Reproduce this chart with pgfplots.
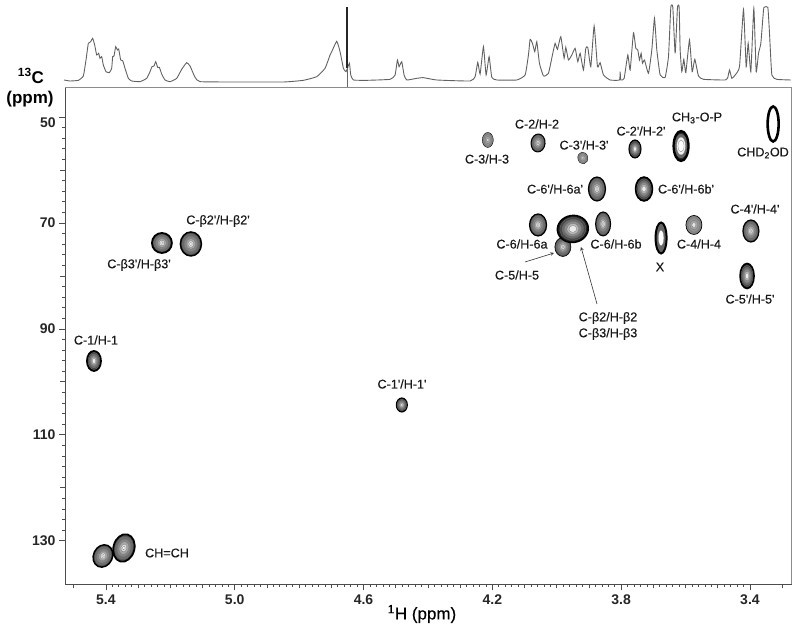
\documentclass[border=0pt]{standalone}
\usepackage{fontspec}
\setmainfont{Liberation Sans}
\newfontfamily\lblfont[FakeBold=0.35]{Liberation Sans}
\usepackage{pgfplots}
\pgfplotsset{compat=1.18}

% one spot of the 2D spectrum: nested contour levels around its centre
\pgfkeys{/blob/.cd,
  rx/.initial=5, ry/.initial=5, rot/.initial=0, edge/.initial=0.8,
  levels/.initial={1/60,.5/30,.2/0}}
\pgfdeclareplotmark{contours}{%
  \pgfmathsetmacro\brx{\pgfkeysvalueof{/blob/rx}}%
  \pgfmathsetmacro\bry{\pgfkeysvalueof{/blob/ry}}%
  \pgfmathsetmacro\brot{\pgfkeysvalueof{/blob/rot}}%
  \edef\blist{\pgfkeysvalueof{/blob/levels}}%
  \pgftransformrotate{\brot}%
  \pgfsetstrokecolor{black}%
  \pgfsetlinewidth{\pgfkeysvalueof{/blob/edge} pt}%
  \foreach \f/\g in \blist {%
    \pgfsetfillcolor{black!\g}%
    \pgfpathellipse{\pgfpointorigin}{\pgfpoint{\f*\brx pt}{0pt}}{\pgfpoint{0pt}{\f*\bry pt}}%
    \pgfusepath{fill,stroke}%
    \pgfsetstrokecolor{black!55}%
    \pgfsetlinewidth{0.25pt}%
  }%
}
\def\dark{1/88,.85/72,.7/58,.55/45,.4/28,.25/8}
\def\mid{1/68,.82/58,.64/48,.46/35,.28/12,.14/0}
\def\pale{1/48,.75/42,.5/35,.25/10}
\def\open{1/0}
% #1 ppm 1H, #2 ppm 13C, #3 rx, #4 ry, #5 rotation, #6 edge width, #7 levels
\newcommand\spot[7]{\addplot[only marks, mark=contours,
  mark options={/blob/rx=#3,/blob/ry=#4,/blob/rot=#5,/blob/edge=#6,/blob/levels={#7}}]
  coordinates {(#1,#2)};}
% text placed in picture pixels, y counted from the top
\newcommand\lab[3]{\node[inner sep=0pt,align=center,black!90,font=\lblfont\fontsize{12.6}{15}\selectfont] at ({#1pt},{631pt-#2pt}) {#3};}
\def\p{\textquotesingle}

\begin{document}
\begin{tikzpicture}
\useasboundingbox (0,0) rectangle (799pt,631pt);

% 1D proton trace, positions
\begin{axis}[
  at={(65pt,544pt)}, anchor=south west,
  scale only axis, width=726.5pt, height=81pt,
  xmin=195, xmax=2374, ymin=18, ymax=261,
  y dir=reverse, axis lines=none, clip=false]
\addplot[black!62, line width=0.9pt, smooth, tension=0.25] coordinates {
(192,240)(210,243)(235,241)(250,228)(258,180)(265,130)(272,125)(278,115)(284,135)(290,165)
(296,160)(300,175)(305,170)(310,195)(318,215)(328,218)(335,205)(338,170)(342,168)(347,140)
(352,150)(356,147)(362,180)(368,182)(375,205)(385,235)(395,243)(420,245)(440,235)(450,215)
(456,200)(462,198)(467,185)(473,202)(478,202)(485,222)(495,240)(510,245)(530,235)(545,208)
(560,188)(570,198)(585,232)(600,245)(700,246)(850,246)(910,241)(950,230)(975,205)(990,165)
(995,155)(1010,124)(1020,155)(1030,205)(1038,215)(1048,190)(1052,225)(1060,240)(1100,241)
(1170,238)(1185,225)(1192,180)(1197,200)(1205,185)(1212,225)(1220,240)(1250,235)(1270,233)
(1310,240)(1410,243)(1425,230)(1433,187)(1440,222)(1450,140)(1458,225)(1467,170)(1475,232)
(1490,240)(1550,240)(1575,225)(1585,165)(1590,118)(1597,130)(1604,155)(1610,125)(1618,190)
(1630,228)(1645,220)(1658,160)(1665,130)(1672,148)(1682,110)(1692,175)(1697,142)(1705,180)
(1715,165)(1725,145)(1733,185)(1740,160)(1750,210)(1757,145)(1763,142)(1772,200)(1782,78)
(1792,200)(1800,188)(1810,225)(1830,240)(1858,240)(1860,215)(1862,240)(1872,235)(1883,165)
(1890,210)(1900,98)(1907,145)(1913,150)(1918,180)(1923,160)(1927,190)(1933,180)(1945,220)
(1955,150)(1963,55)(1970,150)(1980,225)(1995,232)(2005,170)(2012,22)(2018,22)(2025,160)
(2032,22)(2037,22)(2040,150)(2045,215)(2051,178)(2057,218)(2068,120)(2076,215)(2084,178)
(2095,228)(2110,238)(2175,240)(2183,232)(2188,210)(2195,235)(2205,225)(2218,200)(2230,28)
(2238,200)(2244,130)(2252,215)(2261,25)(2268,215)(2275,160)(2282,130)(2290,30)(2292,22)
(2303,22)(2308,100)(2315,225)(2330,238)(2372,240)};
\addplot[black!85, line width=2pt] coordinates {(1042,22)(1042,205)};
\addplot[black!60, line width=0.6pt] coordinates {(1043,205)(1043,261)};
\end{axis}

\begin{axis}[
  at={(65pt,46.7pt)}, anchor=south west,
  scale only axis, width=726.5pt, height=497.3pt,
  x dir=reverse, y dir=reverse,
  xmin=3.271, xmax=5.527, ymin=44.34, ymax=138.24,
  axis x line*=bottom, axis y line*=left,
  axis line style={black!70, line width=0.7pt, -},
  tick align=outside,
  tick style={black!70, line width=0.6pt},
  xtick={3.4,3.8,4.2,4.6,5.0,5.4},
  xticklabels={3.4,3.8,4.2,4.6,5.0,5.4},
  minor x tick num=19,
  extra x ticks={3.3,3.5,3.6,3.7,3.9,4.0,4.1,4.3,4.4,4.5,4.7,4.8,4.9,5.1,5.2,5.3,5.5},
  extra x tick labels={},
  extra x tick style={major tick length=3.5pt},
  ytick={50,70,90,110,130},
  yticklabels={,70,90,110,130},
  minor y tick num=9,
  extra y ticks={60,80,100,120},
  extra y tick labels={},
  extra y tick style={major tick length=5pt},
  major tick length=6pt, minor tick length=2.5pt,
  /pgf/number format/assume math mode=true,
  ticklabel style={font=\fontsize{14}{16}\bfseries\selectfont, black!85},
  xticklabel style={yshift=-1pt},
  clip=false]
\spot{4.214}{54.34}{5.5}{7.5}{0}{0.4}{\pale}
\spot{4.058}{54.91}{7}{9}{-5}{1.0}{\mid}
\spot{3.919}{57.74}{5}{6}{10}{0.3}{\pale}
\spot{3.757}{56.04}{6}{9}{0}{1.1}{\dark}
\spot{3.328}{51.32}{5.5}{17.5}{0}{2.6}{\open}
\spot{3.614}{55.48}{7.5}{15}{0}{2.2}{1/85,.8/60,.6/5,.4/0}
\spot{3.875}{63.60}{8.5}{12}{0}{1.2}{\mid}
\spot{3.729}{63.60}{8.5}{12}{0}{1.5}{\dark}
\spot{4.058}{70.39}{8.5}{11}{0}{1.2}{\mid}
\spot{3.981}{74.55}{8}{9.5}{0}{0.6}{\mid}
\spot{3.950}{71.14}{15.5}{13.5}{8}{1.5}{\dark}
\spot{3.856}{70.20}{7.5}{12}{0}{1.0}{\mid}
\spot{3.676}{72.85}{5.5}{15.5}{0}{2.0}{1/60,.5/0}
\spot{3.574}{70.39}{8}{9.5}{0}{0.7}{\pale}
\spot{3.397}{71.53}{8}{11}{0}{1.2}{\mid}
\spot{3.409}{80.02}{7}{12.5}{0}{1.6}{\dark}
\spot{5.226}{73.79}{10}{10}{0}{1.8}{\mid}
\spot{5.136}{73.98}{10.5}{12}{0}{1.5}{\mid}
\spot{5.437}{96.07}{7}{10}{0}{1.8}{\dark}
\spot{4.481}{104.38}{5.5}{7}{0}{1.1}{\dark}
\spot{5.409}{132.89}{9.5}{11.5}{-25}{1.5}{\mid}
\spot{5.344}{131.38}{10.5}{14}{-15}{1.8}{\mid}
\end{axis}

% frame lines at the top and right of the map
\draw[black!45, line width=0.7pt] (65pt,544pt) -- (791.5pt,544pt) -- (791.5pt,46.7pt);

% peak labels
\lab{487}{159}{C-3/H-3}
\lab{537}{124}{C-2/H-2}
\lab{584}{145}{C-3\p/H-3\p}
\lab{641}{131}{C-2\p/H-2\p}
\lab{697}{118}{CH\textsubscript{3}-O-P}
\lab{763}{153}{CHD\textsubscript{2}OD}
\lab{555}{189}{C-6\p/H-6a\p}
\lab{686}{189}{C-6\p/H-6b\p}
\lab{755}{209}{C-4\p/H-4\p}
\lab{522}{244}{C-6/H-6a}
\lab{616}{244}{C-6/H-6b}
\lab{699}{244}{C-4/H-4}
\lab{660}{267}{X}
\lab{517}{275}{C-5/H-5}
\lab{750}{299}{C-5\p/H-5\p}
\lab{608}{318}{C-β2/H-β2}
\lab{608}{334}{C-β3/H-β3}
\lab{218}{221}{C-β2\p/H-β2\p}
\lab{139}{265}{C-β3\p/H-β3\p}
\lab{96}{340}{C-1/H-1}
\lab{402}{384}{C-1\p/H-1\p}
\lab{167}{553}{CH=CH}

\draw[-stealth, black!80, line width=0.6pt] (525pt,369pt) -- (554pt,378pt);
\draw[-stealth, black!80, line width=0.6pt] (597pt,327pt) -- (581pt,384pt);

% axis titles and the shifted 50 label
\node[inner sep=0pt, font=\fontsize{14}{16}\bfseries\selectfont, black!85] at (48pt,508.5pt) {50};
\node[inner sep=0pt, font=\fontsize{17}{20}\bfseries\selectfont] at (31pt,555pt) {\textsuperscript{13}C};
\node[inner sep=0pt, font=\fontsize{17}{20}\bfseries\selectfont] at (30pt,532pt) {(ppm)};
\node[inner sep=0pt, font=\lblfont\fontsize{17}{20}\selectfont] at (422pt,17pt) {\textsuperscript{1}H (ppm)};
\end{tikzpicture}
\end{document}
